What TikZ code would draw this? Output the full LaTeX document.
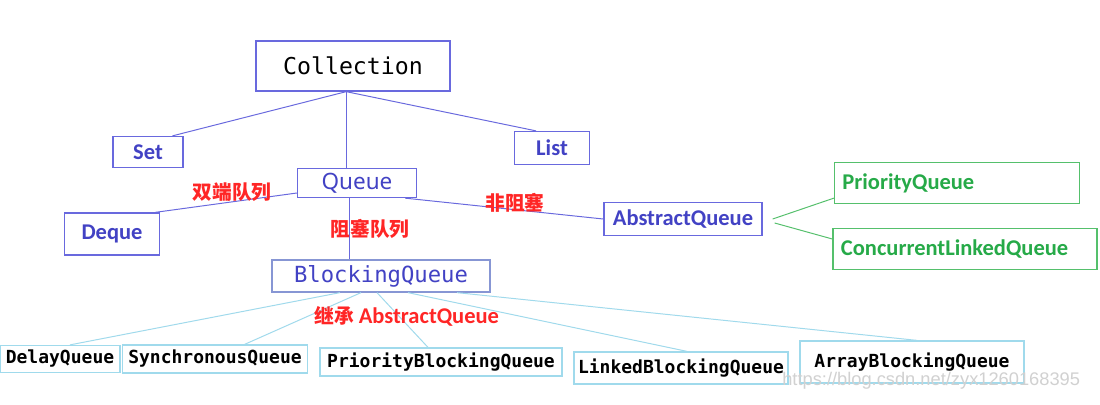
\documentclass[tikz,border=0pt]{standalone}
\usepackage{fontspec}
\setmainfont{Carlito}
\setmonofont{DejaVu Sans Mono}
\newfontfamily\cjk{Noto Sans CJK SC}
\newfontfamily\qfont{Noto Sans}
\newfontfamily\wmfont{Liberation Sans}
\usetikzlibrary{positioning}

\definecolor{iftext}{RGB}{66,66,196}
\definecolor{ifline}{RGB}{105,105,222}
\definecolor{bqline}{RGB}{135,150,212}
\definecolor{gtext}{RGB}{38,170,72}
\definecolor{gline}{RGB}{85,192,108}
\definecolor{leafline}{RGB}{160,218,236}
\definecolor{tagred}{RGB}{255,38,38}

\begin{document}
\begin{tikzpicture}[x=0.025cm, y=-0.025cm,
  box/.style={draw, inner sep=0pt, line width=0.9pt},
  ifbox/.style={box, draw=ifline, text=iftext, font=\fontsize{16}{19}\selectfont\bfseries},
  greenbox/.style={box, draw=gline, text=gtext, align=left, inner xsep=0.2cm, font=\fontsize{16}{19}\selectfont\bfseries},
  leafbox/.style={box, draw=leafline, text=black, minimum height=0.7cm, font=\ttfamily\bfseries\fontsize{12.8}{15}\selectfont},
  link/.style={draw=ifline, line width=0.7pt},
  glink/.style={draw=gline, line width=0.7pt},
  leaflink/.style={draw=leafline, line width=0.7pt},
  tag/.style={text=tagred, inner sep=0pt, font=\cjk\bfseries\fontsize{14}{16}\selectfont}]
  \fill[white] (0,0) rectangle (1100,404);
  \useasboundingbox (0,0) rectangle (1100,404);

  % top level
  \node[box, draw=ifline, minimum width=4.85cm, minimum height=1.25cm, font=\ttfamily\fontsize{16.5}{20}\selectfont] (coll) at (353,66) {Collection};
  \node[ifbox, minimum width=1.75cm, minimum height=0.775cm] (set) at (148,152) {Set};
  \node[ifbox, minimum width=1.875cm, minimum height=0.825cm] (list) at (552,148) {List};
  \node[box, draw=ifline, text=iftext, minimum width=2.975cm, minimum height=0.725cm, font=\qfont\fontsize{16}{19}\selectfont] (q) at (357,183) {Queue};

  % queue family
  \node[ifbox, minimum width=2.375cm, minimum height=1.05cm] (dq) at (112,234) {Deque};
  \node[ifbox, minimum width=3.95cm, minimum height=0.825cm] (aq) at (683,219) {AbstractQueue};
  \node[greenbox, text width=5.725cm, minimum height=1.025cm] (pq) at (957,183) {PriorityQueue};
  \node[greenbox, text width=6.2cm, minimum height=1.025cm] (clq) at (965,249) {ConcurrentLinkedQueue};
  \node[box, draw=bqline, text=iftext, minimum width=5.45cm, minimum height=0.8cm, font=\ttfamily\fontsize{15.8}{19}\selectfont] (bq) at (381,276) {BlockingQueue};

  % blocking queues
  \node[leafbox, minimum width=3.0cm, minimum height=0.675cm] (dlq) at (60,359) {DelayQueue};
  \node[leafbox, minimum width=4.625cm] (sq) at (215,359) {SynchronousQueue};
  \node[leafbox, minimum width=6.05cm] (pbq) at (441,362) {PriorityBlockingQueue};
  \node[leafbox, minimum width=5.35cm, minimum height=0.8cm] (lbq) at (681,368) {LinkedBlockingQueue};
  \node[leafbox, minimum width=5.6cm, minimum height=1.05cm] (abq) at (912,362) {ArrayBlockingQueue};

  \coordinate (top) at ([xshift=-0.17cm]coll.south);
  \draw[link] (top) -- ([xshift=-0.28cm]set.north east);
  \draw[link] (top) -- ([xshift=-0.4cm]list.north);
  \draw[link] (top) -- (top |- q.north);
  \draw[link] ([yshift=-0.25cm]q.west) -- ([xshift=-0.125cm]dq.north east);
  \draw[link] ([xshift=-0.3cm]q.south east) -- (aq.west);
  \draw[link] ([xshift=-0.2cm]q.south) -- ([xshift=-0.2cm]q.south |- bq.north);
  \draw[glink] ([xshift=0.25cm]aq.east) -- ([yshift=0.15cm]pq.south west);
  \draw[glink] ([xshift=0.3cm,yshift=-0.1cm]aq.east) -- ([yshift=0.25cm]clq.west);

  \draw[leaflink] ([xshift=-1.025cm]bq.south) -- ([xshift=0.25cm]dlq.north);
  \draw[leaflink] ([xshift=-0.5cm]bq.south) -- ([xshift=0.74cm]sq.north);
  \draw[leaflink] ([xshift=-0.1cm]bq.south) -- ([xshift=-0.325cm]pbq.north);
  \draw[leaflink] ([xshift=0.675cm]bq.south) -- ([xshift=0.15cm]lbq.north);
  \draw[leaflink] ([xshift=1.9cm]bq.south) -- ([xshift=0.125cm]abq.north);

  % labels
  \node[tag] (t1) at (232,192) {双端队列};
  \node[tag] (t2) at (370,229) {阻塞队列};
  \node[tag] (t3) at (515,203) {非阻塞};
  \node[tag] (t4) at (407,316) {继承 {\fontspec{Carlito}\fontsize{16}{19}\selectfont\bfseries AbstractQueue}};

  \node[anchor=west, inner sep=0pt, text=black!18, font=\wmfont\fontsize{13}{15}\selectfont] (wm) at (782,381) {https://blog.csdn.net/zyx1260168395};
\end{tikzpicture}
\end{document}
